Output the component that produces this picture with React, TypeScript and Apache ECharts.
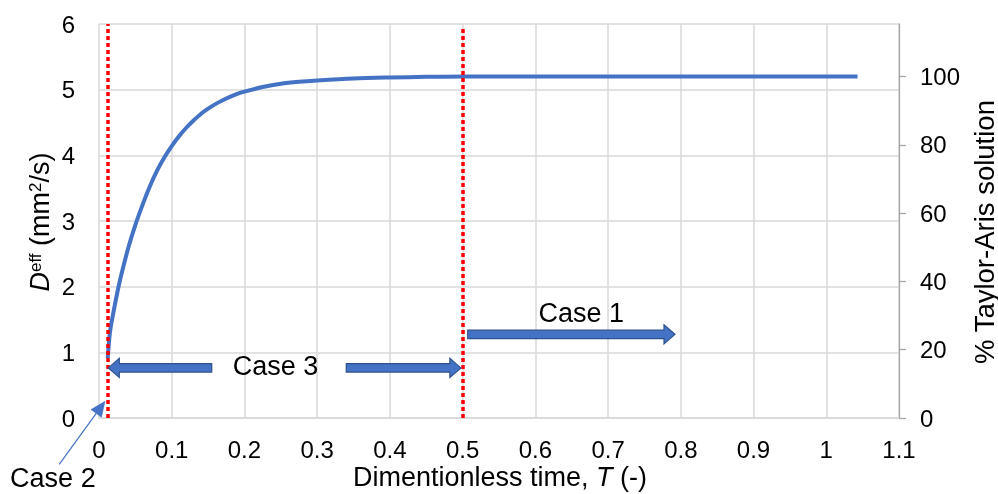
import React, { useEffect, useRef } from 'react';
import * as echarts from 'echarts';

// Dimensionless time T and effective dispersion D_eff (mm^2/s)
const timeT = [0.012, 0.015, 0.02, 0.025, 0.03, 0.04, 0.05, 0.06, 0.07, 0.08, 0.09, 0.1, 0.11, 0.12, 0.13, 0.14, 0.15, 0.16, 0.17, 0.18, 0.19, 0.2, 0.225, 0.25, 0.275, 0.3, 0.35, 0.4, 0.45, 0.5, 0.6, 0.7, 0.8, 0.9, 1.0, 1.043];
const dEff = [0.91, 1.3, 1.62, 1.9, 2.15, 2.58, 2.94, 3.25, 3.53, 3.77, 3.97, 4.14, 4.29, 4.42, 4.53, 4.63, 4.71, 4.78, 4.84, 4.89, 4.935, 4.97, 5.04, 5.09, 5.12, 5.14, 5.17, 5.185, 5.195, 5.2, 5.2, 5.2, 5.2, 5.2, 5.2, 5.2];

const taylorAris = 5.2; // D_eff that equals 100 % of the Taylor-Aris solution
const rightTicks = [0, 20, 40, 60, 80, 100];
const caseLines = [0.012, 0.5];
const caseLineTops = [6, 5.93];

// annotation arrows in data units: [tail, tip]
const case3LeftArrow = [[0.155, 0.763], [0.0128, 0.763]];
const case3RightArrow = [[0.34, 0.763], [0.4976, 0.763]];
const case1Arrow = [[0.507, 1.274], [0.792, 1.274]];
const case2Arrow = [[-0.0547, -0.707], [0.0083, 0.255]];
const caseLabels = ['Case 1', 'Case 3', 'Case 2'];
const caseLabelAt = [[0.663, 1.6], [0.2426, 0.787], [-0.0634, -0.919]];

const FONT = '"Liberation Sans", Arial, sans-serif';
const BLUE = '#4472C4';
const BLUE_EDGE = '#2F528F';
const GRID = '#D9D9D9';

function blockArrow(p1: number[], p2: number[]) {
  const dir = Math.sign(p2[0] - p1[0]);
  const y = (p1[1] + p2[1]) / 2;
  const sh = 4.2, hh = 9.5, hl = 11;
  const bx = p2[0] - dir * hl;
  return [
    [p1[0], y - sh], [bx, y - sh], [bx, y - hh], [p2[0], y],
    [bx, y + hh], [bx, y + sh], [p1[0], y + sh],
  ];
}

export default function App() {
  const ref = useRef<HTMLDivElement>(null);
  useEffect(() => {
    if (!ref.current) return;
    const chart = echarts.init(ref.current, null, { renderer: 'svg' });
    const labelStyle = { color: '#000', fontSize: 24, fontFamily: FONT };
    chart.setOption({
      animation: false,
      grid: { left: 99, right: 99, top: 24, bottom: 76, containLabel: false },
      xAxis: {
        type: 'value', min: 0, max: 1.1, interval: 0.1,
        axisLine: { show: true, lineStyle: { color: GRID, width: 1.5 } },
        axisTick: { show: false },
        splitLine: { show: true, lineStyle: { color: GRID, width: 1.5 } },
        axisLabel: { ...labelStyle, margin: 19, formatter: (v: number) => String(Number(v.toFixed(1))) },
      },
      yAxis: [
        {
          type: 'value', min: 0, max: 6, interval: 1, position: 'left',
          axisLine: { show: false }, axisTick: { show: false },
          splitLine: { show: true, lineStyle: { color: GRID, width: 1.5 } },
          axisLabel: { ...labelStyle, margin: 24 },
        },
        {
          type: 'value', min: 0, max: (6 / taylorAris) * 100, position: 'right',
          axisLine: { show: true, lineStyle: { color: '#A6A6A6', width: 1.3 } },
          axisTick: { show: true, length: 7, customValues: rightTicks, lineStyle: { color: '#A6A6A6', width: 1.3 } },
          splitLine: { show: false },
          axisLabel: { ...labelStyle, margin: 21, customValues: rightTicks },
        },
      ],
      series: [
        {
          type: 'line', yAxisIndex: 0, showSymbol: false, smooth: 0.3, z: 3,
          data: timeT.map((t, i) => [t, dEff[i]]),
          lineStyle: { color: BLUE, width: 4 },
          markLine: {
            silent: true, symbol: ['none', 'none'], label: { show: false },
            lineStyle: { color: '#FF0000', type: [4, 3], width: 3.5 },
            data: caseLines.map((x, i) => [{ coord: [x, 0] }, { coord: [x, caseLineTops[i]] }]),
          },
        },
      ],
    });

    const px = (p: number[]) => chart.convertToPixel({ seriesIndex: 0 }, p) as number[];
    const graphics: any[] = [];
    [case3LeftArrow, case3RightArrow, case1Arrow].forEach((a) => {
      graphics.push({
        type: 'polygon', z: 10,
        shape: { points: blockArrow(px(a[0]), px(a[1])) },
        style: { fill: BLUE, stroke: BLUE_EDGE, lineWidth: 1.2 },
      });
    });
    // Case 2 thin arrow
    const tail = px(case2Arrow[0]);
    const tip = px(case2Arrow[1]);
    const dx = tip[0] - tail[0], dy = tip[1] - tail[1];
    const len = Math.hypot(dx, dy);
    const ux = dx / len, uy = dy / len;
    const hl = 15, hw = 6.5;
    const bx = tip[0] - ux * hl, by = tip[1] - uy * hl;
    graphics.push({
      type: 'line', z: 10,
      shape: { x1: tail[0], y1: tail[1], x2: bx, y2: by },
      style: { stroke: BLUE, lineWidth: 1.2 },
    });
    graphics.push({
      type: 'polygon', z: 10,
      shape: { points: [[tip[0], tip[1]], [bx - uy * hw, by + ux * hw], [bx + uy * hw, by - ux * hw]] },
      style: { fill: BLUE, stroke: BLUE, lineWidth: 0.5 },
    });
    caseLabels.forEach((t, i) => {
      const p = px(caseLabelAt[i]);
      graphics.push({
        type: 'text', z: 11, x: p[0], y: p[1],
        style: { text: t, fill: '#000', fontSize: 27, fontFamily: FONT, align: 'center', verticalAlign: 'middle' },
      });
    });
    // axis titles
    const rich = {
      i: { fontStyle: 'italic', fontSize: 27, fontFamily: FONT, fill: '#000' },
      n: { fontSize: 27, fontFamily: FONT, fill: '#000' },
      sup: { fontSize: 17, fontFamily: FONT, fill: '#000', verticalAlign: 'top' },
    };
    graphics.push({
      type: 'text', z: 11, x: 40, y: 222, rotation: Math.PI / 2,
      style: { text: '{i|D}{sup|eff}{n| (mm}{sup|2}{n|/s)}', rich, align: 'center', verticalAlign: 'middle', fontSize: 27, fontFamily: FONT, fill: '#000' },
    });
    graphics.push({
      type: 'text', z: 11, x: 984, y: 232, rotation: Math.PI / 2,
      style: { text: '% Taylor-Aris solution', align: 'center', verticalAlign: 'middle', fontSize: 27.5, fontFamily: FONT, fill: '#000' },
    });
    graphics.push({
      type: 'text', z: 11, x: 500, y: 477,
      style: { text: '{n|Dimentionless time, }{i|T}{n| (-)}', rich, align: 'center', verticalAlign: 'middle', fontSize: 27, fontFamily: FONT, fill: '#000' },
    });
    chart.setOption({ graphic: graphics });
    return () => chart.dispose();
  }, []);
  return <div ref={ref} style={{ position: 'fixed', left: 0, top: 0, width: 998, height: 494 }} />;
}
